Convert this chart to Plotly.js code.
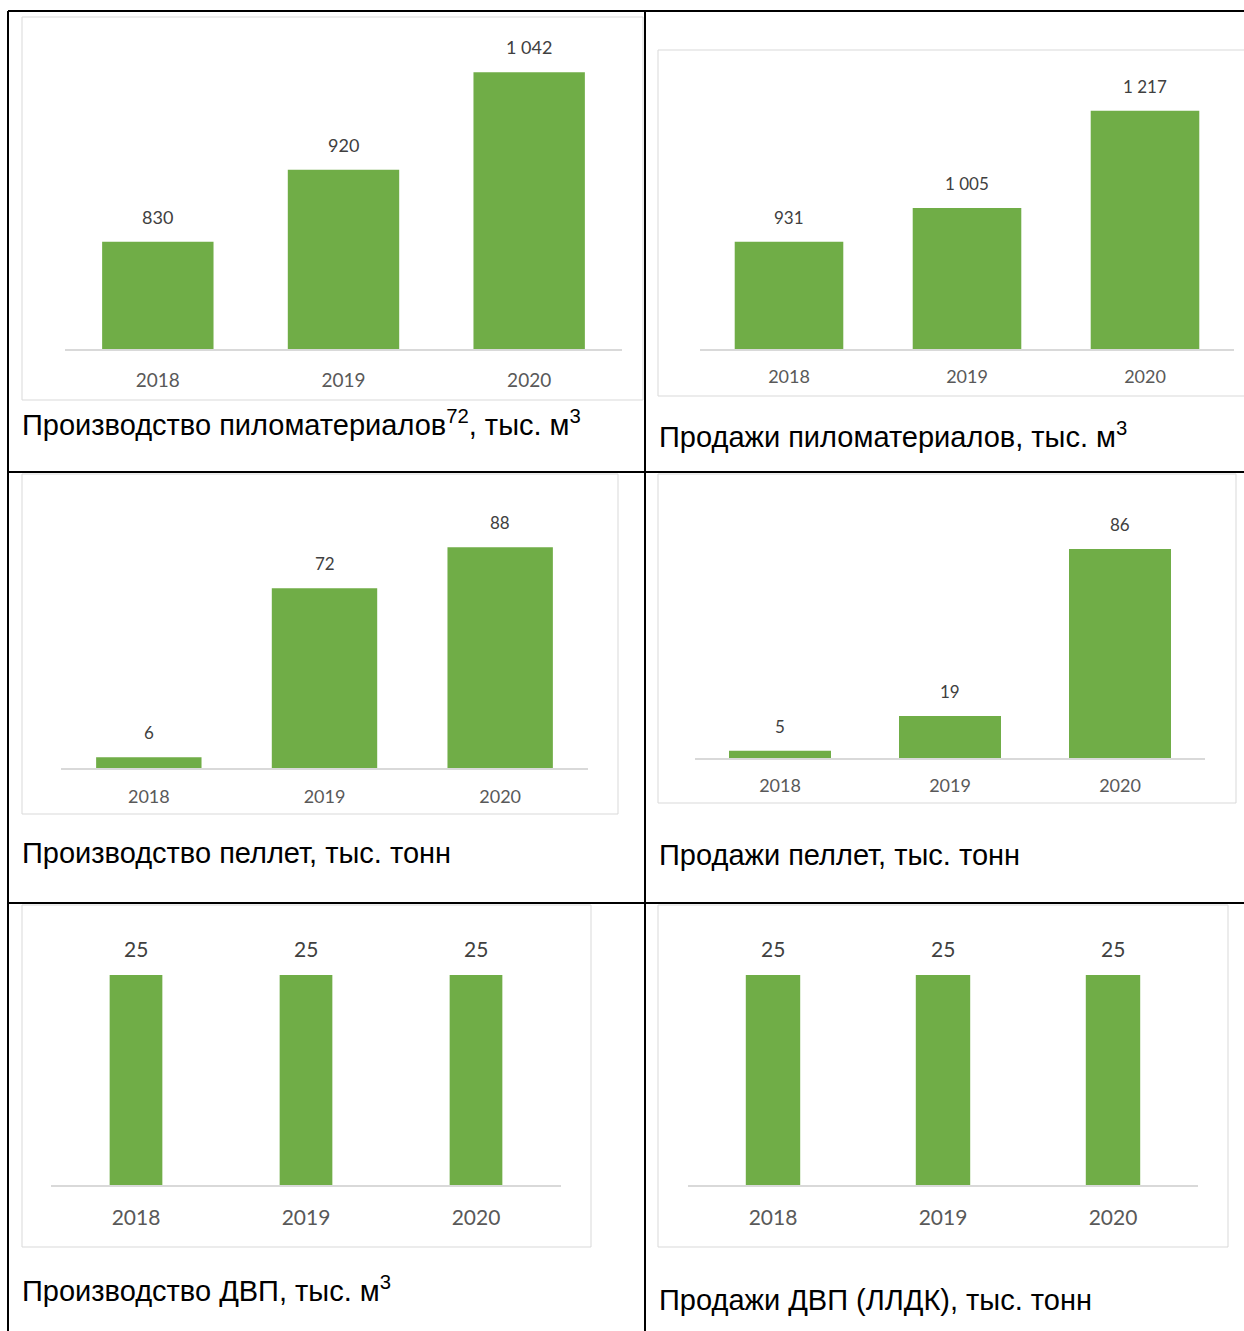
<!DOCTYPE html>
<html>
<head>
<meta charset="utf-8">
<script src="https://cdn.plot.ly/plotly-3.0.1.min.js"></script>
<style>
  html, body { margin: 0; padding: 0; background: #fff; }
  #chart { width: 1244px; height: 1331px; }
</style>
</head>
<body>
<div id="chart"></div>
<script>
// ---- data ----
const years = ['2018', '2019', '2020'];
const lumberProduction = [830, 920, 1042];
const lumberSales = [931, 1005, 1217];
const pelletProduction = [6, 72, 88];
const pelletSales = [5, 19, 86];
const fiberboardProduction = [25, 25, 25];
const fiberboardSales = [25, 25, 25];
const captions = [
  'Производство пиломатериалов<sup>72</sup>, тыс. м<sup>3</sup>',
  'Продажи пиломатериалов, тыс. м<sup>3</sup>',
  'Производство пеллет, тыс. тонн',
  'Продажи пеллет, тыс. тонн',
  'Производство ДВП, тыс. м<sup>3</sup>',
  'Продажи ДВП (ЛЛДК), тыс. тонн'
];
const seriesList = [lumberProduction, lumberSales, pelletProduction, pelletSales, fiberboardProduction, fiberboardSales];

// ---- layout helpers (pixels -> paper) ----
const W = 1244, H = 1331;
const px = x => x / W;
const py = y => 1 - y / H;
function fmt(v) { return String(v).replace(/\B(?=(\d{3})+(?!\d))/g, ' '); }

const GREEN = '#70AD47';
const TICK = '#595959';
const LABEL = '#404040';
const BOX = '#d9d9d9';
const NUMFONT = 'Lato, "Open Sans", sans-serif';
const CAPFONT = '"Liberation Sans", Arial, sans-serif';

const panels = [
  {xd: [65, 622],  yd: [29, 349],   range: [696, 1096],  gap: 0.40, box: [22, 17, 643, 400],   cap: [20, 423],  fs: 18, tfs: 19, tlen: 14},
  {xd: [700, 1234], yd: [60, 349],  range: [697, 1328],  gap: 0.39, box: [658, 50, 1250, 396], cap: [657, 435], fs: 17, tfs: 18, tlen: 11},
  {xd: [61, 588],  yd: [500, 768],  range: [1.8, 106.4], gap: 0.40, box: [22, 474, 618, 814],  cap: [20, 853],  fs: 17, tfs: 18, tlen: 12},
  {xd: [695, 1205], yd: [500, 758], range: [2.1, 105.7], gap: 0.40, box: [658, 474, 1236, 803], cap: [657, 855], fs: 17, tfs: 18, tlen: 11},
  {xd: [51, 561],  yd: [930, 1185], range: [0, 30.36],   gap: 0.69, box: [22, 905, 591, 1247], cap: [20, 1289], fs: 21, tfs: 21, tlen: 13},
  {xd: [688, 1198], yd: [930, 1185], range: [0, 30.36],  gap: 0.68, box: [658, 905, 1228, 1247], cap: [657, 1300], fs: 21, tfs: 21, tlen: 13}
];

const traces = [];
const layout = {
  width: W, height: H,
  margin: {l: 0, r: 0, t: 0, b: 0},
  paper_bgcolor: '#fff', plot_bgcolor: 'rgba(0,0,0,0)',
  showlegend: false,
  shapes: [], annotations: []
};

panels.forEach((p, i) => {
  const n = i + 1;
  const xa = n === 1 ? 'x' : 'x' + n;
  const ya = n === 1 ? 'y' : 'y' + n;
  const vals = seriesList[i];
  traces.push({
    type: 'bar', x: years, y: vals, xaxis: xa, yaxis: ya,
    width: 1 - p.gap,
    marker: {color: GREEN, line: {width: 0}}, hoverinfo: 'skip'
  });
  layout['xaxis' + (n === 1 ? '' : n)] = {
    domain: [px(p.xd[0]), px(p.xd[1])], anchor: ya,
    type: 'category', range: [-0.5, 2.5],
    showline: true, linecolor: BOX, linewidth: 1.5,
    showgrid: false, zeroline: false,
    ticks: 'outside', ticklen: p.tlen, tickcolor: 'rgba(0,0,0,0)',
    tickfont: {family: NUMFONT, size: p.tfs, color: TICK}
  };
  layout['yaxis' + (n === 1 ? '' : n)] = {
    domain: [py(p.yd[1]), py(p.yd[0])], anchor: xa,
    range: p.range, visible: false, showgrid: false, zeroline: false
  };
  // value labels (x given as category index)
  vals.forEach((v, k) => {
    layout.annotations.push({
      xref: xa, yref: ya, x: k, y: v, text: fmt(v),
      showarrow: false, xanchor: 'center', yanchor: 'bottom', yshift: 12,
      font: {family: NUMFONT, size: p.fs, color: LABEL}
    });
  });
  // chart box
  layout.shapes.push({
    type: 'rect', xref: 'paper', yref: 'paper',
    x0: px(p.box[0]), x1: px(p.box[2]), y0: py(p.box[3]), y1: py(p.box[1]),
    line: {color: BOX, width: 1}, fillcolor: 'rgba(0,0,0,0)', layer: 'below'
  });
  // caption
  layout.annotations.push({
    xref: 'paper', yref: 'paper', x: px(p.cap[0]), y: py(p.cap[1]),
    xanchor: 'left', yanchor: 'middle', showarrow: false, text: captions[i],
    font: {family: CAPFONT, size: 29, color: '#000'}
  });
});

// table grid lines
const gridLines = [
  [8, 11, 1244, 11], [8, 472, 1244, 472], [8, 903, 1244, 903],
  [8, 11, 8, 1331], [645, 11, 645, 1331]
];
gridLines.forEach(g => layout.shapes.push({
  type: 'line', xref: 'paper', yref: 'paper',
  x0: px(g[0]), y0: py(g[1]), x1: px(g[2]), y1: py(g[3]),
  line: {color: '#000', width: 2}, layer: 'above'
}));

Plotly.newPlot('chart', traces, layout, {displayModeBar: false, staticPlot: true});
</script>
</body>
</html>
